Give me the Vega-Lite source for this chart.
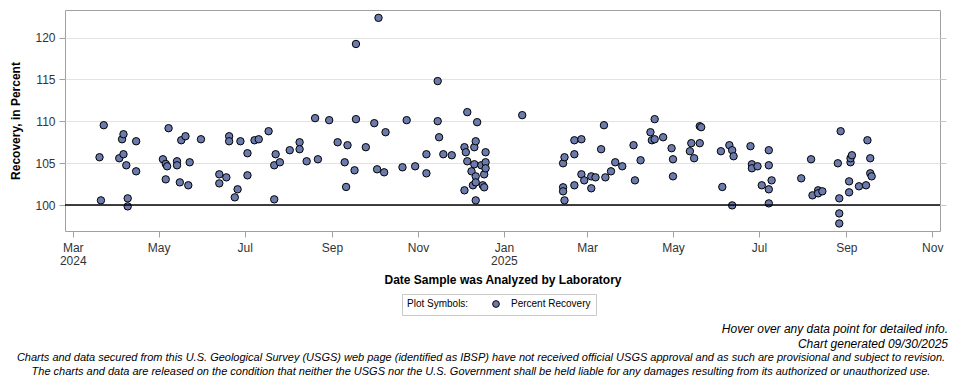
{
  "$schema": "https://vega.github.io/schema/vega-lite/v6.json",
  "background": "white",
  "padding": {"left": 9, "top": 9, "right": 12, "bottom": 5},
  "config": {
    "font": "Liberation Sans",
    "view": {"stroke": "#a0a0a0", "strokeWidth": 1},
    "axis": {
      "labelFont": "Liberation Sans", "labelFontSize": 12, "labelColor": "#333333",
      "titleFont": "Liberation Sans", "titleFontSize": 12, "titleFontWeight": "bold", "titleColor": "black",
      "tickColor": "#a0a0a0", "tickSize": 6, "domain": false
    },
    "legend": {
      "labelFont": "Liberation Sans", "titleFont": "Liberation Sans"
    }
  },
  "title": {
    "text": [
      "Charts and data secured from this U.S. Geological Survey (USGS) web page (identified as IBSP) have not received official USGS approval and as such are provisional and subject to revision.",
      "The charts and data are released on the condition that neither the USGS nor the U.S. Government shall be held liable for any damages resulting from its authorized or unauthorized use."
    ],
    "orient": "bottom", "anchor": "middle", "font": "Liberation Sans", "fontSize": 11, "fontStyle": "italic", "fontWeight": "normal",
    "color": "black", "lineHeight": 14, "offset": 2, "dx": 2
  },
  "resolve": {"scale": {"color": "independent"}},
  "vconcat": [
    {
      "width": 875,
      "height": 221,
      "title": {
        "text": ["Hover over any data point for detailed info.", "Chart generated 09/30/2025"],
        "orient": "bottom", "anchor": "end", "frame": "group", "dx": 8,
        "font": "Liberation Sans", "fontSize": 12, "fontStyle": "italic", "fontWeight": "normal",
        "color": "black", "lineHeight": 15, "offset": 8
      },
      "layer": [
        {
          "data": {"values": [
            {"date": "2024-03-20", "recovery": 105.71},
            {"date": "2024-03-21", "recovery": 100.56},
            {"date": "2024-03-23", "recovery": 109.54},
            {"date": "2024-04-03", "recovery": 105.59},
            {"date": "2024-04-05", "recovery": 107.86},
            {"date": "2024-04-06", "recovery": 108.46},
            {"date": "2024-04-06", "recovery": 106.07},
            {"date": "2024-04-08", "recovery": 104.75},
            {"date": "2024-04-09", "recovery": 100.80},
            {"date": "2024-04-09", "recovery": 99.84},
            {"date": "2024-04-15", "recovery": 107.62},
            {"date": "2024-04-15", "recovery": 104.03},
            {"date": "2024-05-04", "recovery": 105.47},
            {"date": "2024-05-06", "recovery": 104.91},
            {"date": "2024-05-07", "recovery": 104.63},
            {"date": "2024-05-06", "recovery": 103.07},
            {"date": "2024-05-08", "recovery": 109.18},
            {"date": "2024-05-14", "recovery": 105.23},
            {"date": "2024-05-14", "recovery": 104.75},
            {"date": "2024-05-16", "recovery": 102.71},
            {"date": "2024-05-17", "recovery": 107.74},
            {"date": "2024-05-20", "recovery": 108.22},
            {"date": "2024-05-22", "recovery": 102.36},
            {"date": "2024-05-23", "recovery": 105.11},
            {"date": "2024-05-31", "recovery": 107.86},
            {"date": "2024-06-13", "recovery": 103.67},
            {"date": "2024-06-13", "recovery": 102.59},
            {"date": "2024-06-18", "recovery": 103.31},
            {"date": "2024-06-20", "recovery": 108.22},
            {"date": "2024-06-20", "recovery": 107.62},
            {"date": "2024-06-24", "recovery": 100.92},
            {"date": "2024-06-26", "recovery": 101.88},
            {"date": "2024-06-28", "recovery": 107.62},
            {"date": "2024-07-03", "recovery": 106.19},
            {"date": "2024-07-03", "recovery": 103.55},
            {"date": "2024-07-08", "recovery": 107.74},
            {"date": "2024-07-11", "recovery": 107.86},
            {"date": "2024-07-18", "recovery": 108.82},
            {"date": "2024-07-22", "recovery": 104.75},
            {"date": "2024-07-22", "recovery": 100.68},
            {"date": "2024-07-23", "recovery": 106.07},
            {"date": "2024-07-26", "recovery": 105.11},
            {"date": "2024-08-02", "recovery": 106.55},
            {"date": "2024-08-09", "recovery": 107.50},
            {"date": "2024-08-09", "recovery": 106.67},
            {"date": "2024-08-14", "recovery": 105.23},
            {"date": "2024-08-20", "recovery": 110.38},
            {"date": "2024-08-22", "recovery": 105.47},
            {"date": "2024-08-30", "recovery": 110.14},
            {"date": "2024-09-05", "recovery": 107.50},
            {"date": "2024-09-10", "recovery": 105.11},
            {"date": "2024-09-11", "recovery": 102.16},
            {"date": "2024-09-12", "recovery": 107.15},
            {"date": "2024-09-18", "recovery": 119.24},
            {"date": "2024-09-18", "recovery": 110.26},
            {"date": "2024-09-17", "recovery": 104.15},
            {"date": "2024-09-25", "recovery": 106.91},
            {"date": "2024-10-01", "recovery": 109.78},
            {"date": "2024-10-03", "recovery": 104.27},
            {"date": "2024-10-04", "recovery": 122.36},
            {"date": "2024-10-08", "recovery": 103.91},
            {"date": "2024-10-09", "recovery": 108.70},
            {"date": "2024-10-21", "recovery": 104.51},
            {"date": "2024-10-24", "recovery": 110.14},
            {"date": "2024-10-30", "recovery": 104.63},
            {"date": "2024-11-07", "recovery": 106.07},
            {"date": "2024-11-07", "recovery": 103.79},
            {"date": "2024-11-15", "recovery": 114.81},
            {"date": "2024-11-15", "recovery": 110.02},
            {"date": "2024-11-16", "recovery": 108.10},
            {"date": "2024-11-19", "recovery": 106.07},
            {"date": "2024-11-25", "recovery": 105.95},
            {"date": "2024-12-04", "recovery": 106.91},
            {"date": "2024-12-05", "recovery": 106.31},
            {"date": "2024-12-04", "recovery": 101.76},
            {"date": "2024-12-06", "recovery": 111.10},
            {"date": "2024-12-06", "recovery": 105.23},
            {"date": "2024-12-09", "recovery": 104.03},
            {"date": "2024-12-11", "recovery": 106.91},
            {"date": "2024-12-11", "recovery": 104.87},
            {"date": "2024-12-10", "recovery": 102.36},
            {"date": "2024-12-12", "recovery": 107.62},
            {"date": "2024-12-13", "recovery": 109.90},
            {"date": "2024-12-12", "recovery": 103.43},
            {"date": "2024-12-12", "recovery": 102.71},
            {"date": "2024-12-12", "recovery": 100.56},
            {"date": "2024-12-16", "recovery": 104.75},
            {"date": "2024-12-18", "recovery": 103.67},
            {"date": "2024-12-17", "recovery": 102.36},
            {"date": "2024-12-18", "recovery": 102.12},
            {"date": "2024-12-19", "recovery": 106.31},
            {"date": "2024-12-19", "recovery": 105.11},
            {"date": "2024-12-19", "recovery": 104.39},
            {"date": "2025-01-14", "recovery": 110.74},
            {"date": "2025-02-12", "recovery": 104.99},
            {"date": "2025-02-13", "recovery": 105.71},
            {"date": "2025-02-12", "recovery": 102.12},
            {"date": "2025-02-12", "recovery": 101.64},
            {"date": "2025-02-13", "recovery": 100.56},
            {"date": "2025-02-20", "recovery": 107.74},
            {"date": "2025-02-20", "recovery": 106.07},
            {"date": "2025-02-20", "recovery": 102.36},
            {"date": "2025-02-25", "recovery": 107.86},
            {"date": "2025-02-25", "recovery": 103.67},
            {"date": "2025-02-27", "recovery": 102.95},
            {"date": "2025-03-04", "recovery": 103.43},
            {"date": "2025-03-04", "recovery": 102.00},
            {"date": "2025-03-07", "recovery": 103.31},
            {"date": "2025-03-11", "recovery": 106.67},
            {"date": "2025-03-13", "recovery": 109.54},
            {"date": "2025-03-14", "recovery": 103.31},
            {"date": "2025-03-18", "recovery": 104.03},
            {"date": "2025-03-21", "recovery": 105.11},
            {"date": "2025-03-26", "recovery": 104.63},
            {"date": "2025-04-03", "recovery": 107.15},
            {"date": "2025-04-04", "recovery": 102.95},
            {"date": "2025-04-08", "recovery": 105.35},
            {"date": "2025-04-15", "recovery": 108.70},
            {"date": "2025-04-16", "recovery": 107.74},
            {"date": "2025-04-18", "recovery": 107.86},
            {"date": "2025-04-18", "recovery": 110.26},
            {"date": "2025-04-24", "recovery": 108.10},
            {"date": "2025-04-30", "recovery": 106.79},
            {"date": "2025-05-01", "recovery": 105.47},
            {"date": "2025-05-01", "recovery": 103.43},
            {"date": "2025-05-13", "recovery": 106.43},
            {"date": "2025-05-14", "recovery": 107.39},
            {"date": "2025-05-16", "recovery": 105.59},
            {"date": "2025-05-20", "recovery": 107.39},
            {"date": "2025-05-20", "recovery": 109.42},
            {"date": "2025-05-21", "recovery": 109.30},
            {"date": "2025-06-04", "recovery": 106.43},
            {"date": "2025-06-05", "recovery": 102.16},
            {"date": "2025-06-10", "recovery": 107.15},
            {"date": "2025-06-12", "recovery": 106.55},
            {"date": "2025-06-13", "recovery": 105.83},
            {"date": "2025-06-12", "recovery": 99.96},
            {"date": "2025-06-25", "recovery": 107.03},
            {"date": "2025-06-26", "recovery": 104.87},
            {"date": "2025-06-26", "recovery": 104.39},
            {"date": "2025-06-30", "recovery": 104.63},
            {"date": "2025-07-03", "recovery": 102.36},
            {"date": "2025-07-08", "recovery": 106.55},
            {"date": "2025-07-08", "recovery": 104.75},
            {"date": "2025-07-08", "recovery": 101.88},
            {"date": "2025-07-10", "recovery": 102.95},
            {"date": "2025-07-08", "recovery": 100.20},
            {"date": "2025-07-31", "recovery": 103.19},
            {"date": "2025-08-07", "recovery": 105.47},
            {"date": "2025-08-08", "recovery": 101.16},
            {"date": "2025-08-12", "recovery": 101.76},
            {"date": "2025-08-12", "recovery": 101.40},
            {"date": "2025-08-15", "recovery": 101.64},
            {"date": "2025-08-26", "recovery": 104.99},
            {"date": "2025-08-28", "recovery": 108.82},
            {"date": "2025-08-27", "recovery": 100.80},
            {"date": "2025-08-27", "recovery": 99.00},
            {"date": "2025-08-27", "recovery": 97.80},
            {"date": "2025-09-03", "recovery": 101.52},
            {"date": "2025-09-03", "recovery": 102.83},
            {"date": "2025-09-04", "recovery": 105.11},
            {"date": "2025-09-04", "recovery": 105.59},
            {"date": "2025-09-05", "recovery": 105.95},
            {"date": "2025-09-10", "recovery": 102.24},
            {"date": "2025-09-15", "recovery": 102.36},
            {"date": "2025-09-16", "recovery": 107.74},
            {"date": "2025-09-18", "recovery": 105.59},
            {"date": "2025-09-18", "recovery": 103.79},
            {"date": "2025-09-19", "recovery": 103.43}
          ]},
          "mark": {"type": "circle", "size": 55, "stroke": "black", "strokeWidth": 1, "opacity": 1},
          "encoding": {
            "x": {
              "field": "date", "type": "temporal",
              "scale": {"domain": [{"year": 2024, "month": 2, "date": 24, "hours": 12}, {"year": 2025, "month": 11, "date": 6, "hours": 12}]},
              "axis": {
                "title": "Date Sample was Analyzed by Laboratory",
                "values": [
                  {"year": 2024, "month": 3, "date": 1}, {"year": 2024, "month": 5, "date": 1},
                  {"year": 2024, "month": 7, "date": 1}, {"year": 2024, "month": 9, "date": 1},
                  {"year": 2024, "month": 11, "date": 1}, {"year": 2025, "month": 1, "date": 1},
                  {"year": 2025, "month": 3, "date": 1}, {"year": 2025, "month": 5, "date": 1},
                  {"year": 2025, "month": 7, "date": 1}, {"year": 2025, "month": 9, "date": 1},
                  {"year": 2025, "month": 11, "date": 1}
                ],
                "labelExpr": "(month(datum.value) == 0 || (year(datum.value) == 2024 && month(datum.value) == 2)) ? [timeFormat(datum.value, '%b'), timeFormat(datum.value, '%Y')] : timeFormat(datum.value, '%b')",
                "labelLineHeight": 13, "labelPadding": 5, "titlePadding": 8, "grid": false
              }
            },
            "y": {
              "field": "recovery", "type": "quantitative",
              "scale": {"domain": [96.9, 123.3], "nice": false, "zero": false},
              "axis": {
                "title": "Recovery, in Percent", "values": [100, 105, 110, 115, 120],
                "grid": true, "gridColor": "#e3e3e3", "labelPadding": 4, "titlePadding": 12
              }
            },
            "color": {
              "datum": "Percent Recovery", "type": "nominal",
              "scale": {"range": ["#6B7BAE"]},
              "legend": {
                "title": "Plot Symbols:", "orient": "none", "legendX": 337, "legendY": 284,
                "titleOrient": "left", "direction": "horizontal",
                "titleFontWeight": "normal", "titleFontSize": 10, "titleColor": "black", "titlePadding": 22,
                "labelFontSize": 10, "labelColor": "black", "labelOffset": 10, "symbolType": "circle", "symbolSize": 45,
                "symbolStrokeColor": "black", "symbolStrokeWidth": 1, "symbolOpacity": 1,
                "strokeColor": "#c8c8c8", "padding": 5
              }
            }
          }
        },
        {
          "data": {"values": [{}]},
          "mark": {"type": "rule", "color": "black", "strokeWidth": 1.5},
          "encoding": {
            "y": {
              "datum": 100, "type": "quantitative",
              "axis": {"orient": "right", "labels": false, "ticks": true, "tickColor": "#c8c8c8", "grid": false, "title": null, "values": [100, 105, 110, 115, 120]}
            }
          }
        }
      ],
      "resolve": {"axis": {"y": "independent"}}
    }
  ]
}
